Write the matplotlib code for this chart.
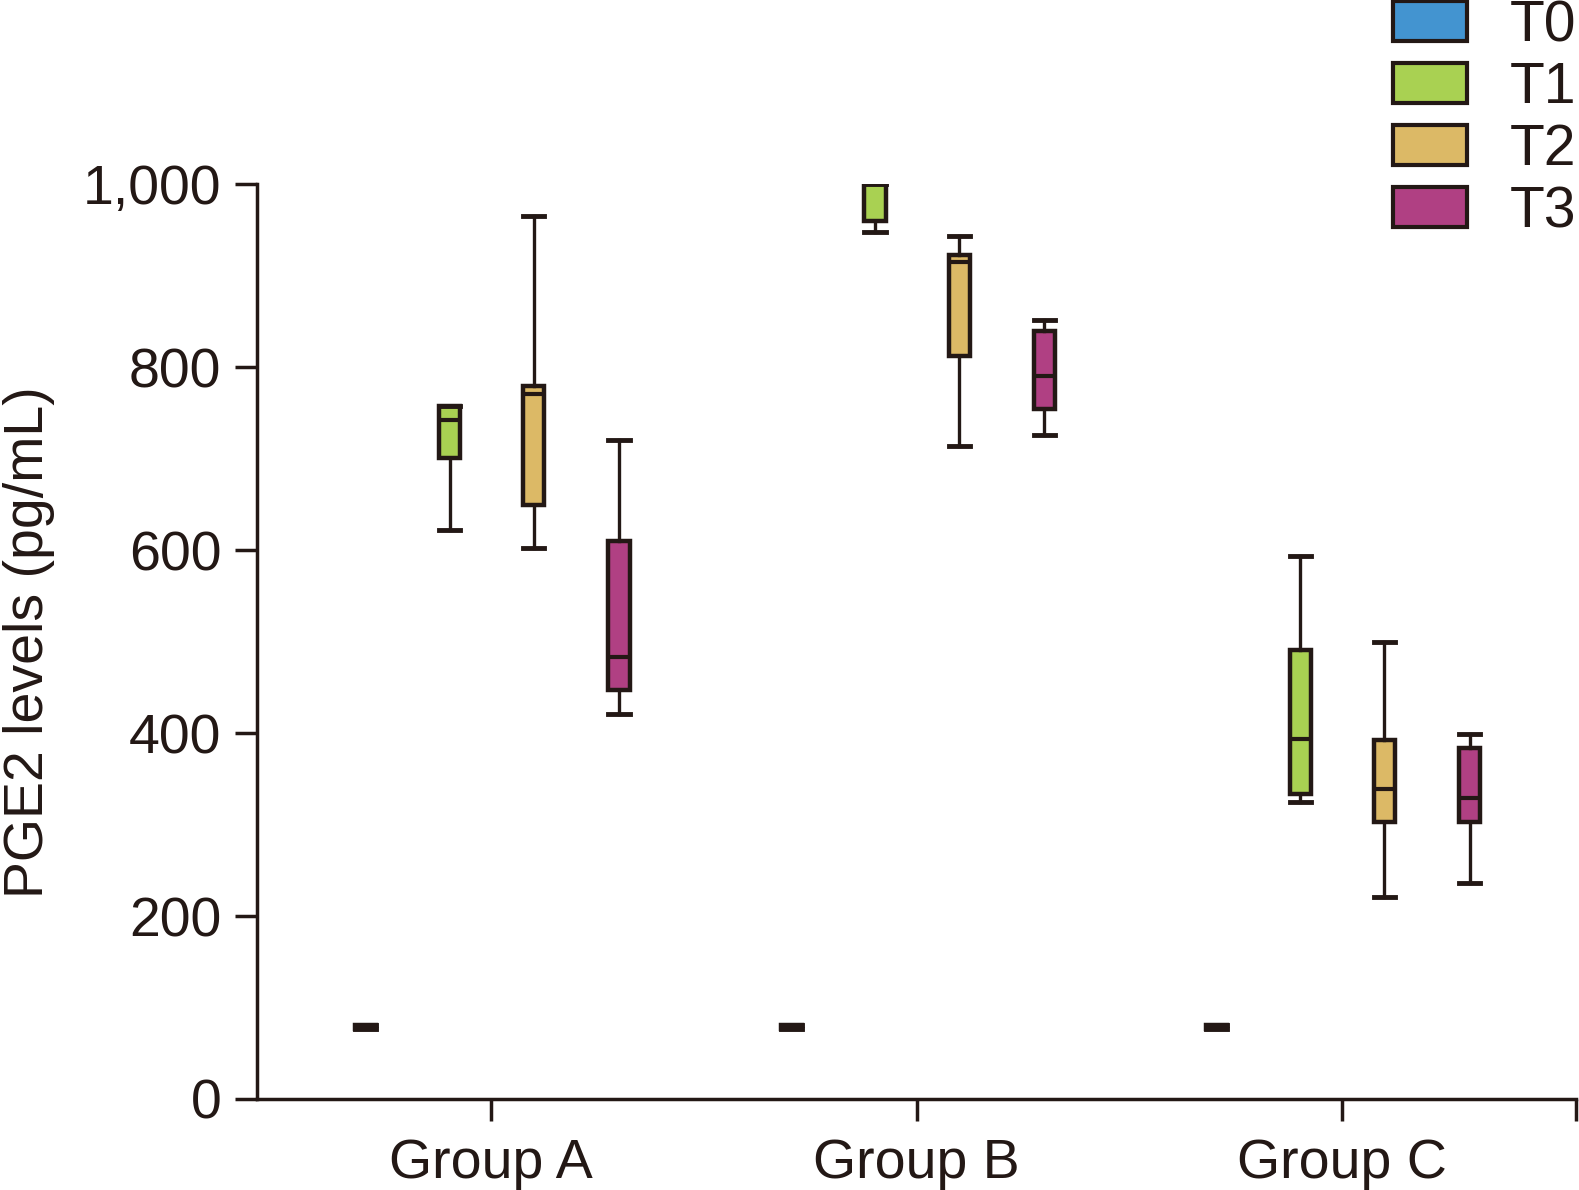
import matplotlib
matplotlib.use('Agg')
import matplotlib.pyplot as plt
from matplotlib.patches import Patch

plt.rcParams['font.family'] = ['Liberation Sans', 'DejaVu Sans']
ink = '#231815'

groups = ['Group A', 'Group B', 'Group C']
times = ['T0', 'T1', 'T2', 'T3']
colors = ['#4394D0', '#A9D152', '#DCB966', '#B04083']

# per group, per time: whislo, q1, med, q3, whishi
t0 = [[77, 77, 79, 81, 81], [77, 77, 79, 81, 81], [77, 77, 79, 81, 81]]
t1 = [[622, 701, 742, 758, 758], [948, 960, 1000, 1000, 1000], [325, 333, 394, 491, 594]]
t2 = [[602, 650, 771, 780, 965], [714, 812, 915, 923, 944], [221, 303, 339, 393, 500]]
t3 = [[421, 447, 483, 610, 721], [726, 754, 790, 840, 852], [236, 303, 329, 384, 399]]
data = [t0, t1, t2, t3]

fig = plt.figure(figsize=(15.79, 11.90), dpi=100)
ax = fig.add_axes([0.163, 0.0765, 0.835, 0.7685])

offs = [-0.295, -0.098, 0.1, 0.3]
for ti, series in enumerate(data):
    stats = []
    for gi, v in enumerate(series):
        stats.append(dict(whislo=v[0], q1=v[1], med=v[2], q3=v[3], whishi=v[4], fliers=[]))
    pos = [gi + offs[ti] for gi in range(len(groups))]
    ax.bxp(stats, positions=pos, widths=0.05, patch_artist=True, showfliers=False,
           boxprops=dict(facecolor=colors[ti], edgecolor=ink, linewidth=3.2),
           medianprops=dict(color=ink, linewidth=3),
           whiskerprops=dict(color=ink, linewidth=2.4),
           capprops=dict(color=ink, linewidth=3.5), capwidths=0.05)

ax.set_xlim(-0.55, 2.55)
ax.set_ylim(0, 1000)
ax.set_xticks([0, 1, 2])
ax.set_xticklabels(groups)
ax.set_xticks([2.55], minor=True)
ax.set_yticks([0, 200, 400, 600, 800, 1000])
ax.set_yticklabels(['0', '200', '400', '600', '800', '1,000'])
ax.tick_params(axis='both', which='both', direction='out', length=16, width=2.5,
               color=ink, labelcolor=ink, labelsize=40, pad=10)
ax.tick_params(axis='x', pad=12)
for s in ['top', 'right']:
    ax.spines[s].set_visible(False)
for s in ['left', 'bottom']:
    ax.spines[s].set_linewidth(2.5)
    ax.spines[s].set_color(ink)
ax.set_ylabel('PGE2 levels (pg/mL)', fontsize=40, color=ink, labelpad=20)

handles = [Patch(facecolor=c, edgecolor=ink, linewidth=3) for c in colors]
fig.legend(handles, times, loc='upper right', bbox_to_anchor=(1.0, 1.003), frameon=False,
           fontsize=41, handlelength=1.3, handleheight=0.7, labelspacing=0.14,
           handletextpad=0.75, borderpad=0.05, borderaxespad=0.0, labelcolor=ink)

fig.savefig('out.png', dpi=100)
